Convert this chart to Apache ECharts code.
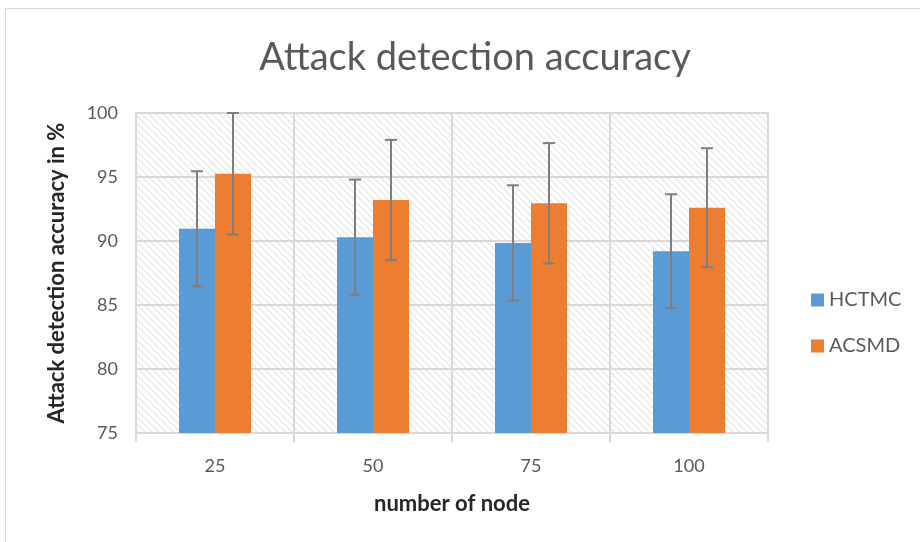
<!DOCTYPE html>
<html>
<head>
<meta charset="utf-8">
<script src="https://cdn.jsdelivr.net/npm/echarts@6/dist/echarts.min.js"></script>
<style>
  html, body { margin: 0; padding: 0; background: #fff; }
  #chart { width: 920px; height: 542px; }
</style>
</head>
<body>
<div id="chart"></div>
<script>
const categories = ['25', '50', '75', '100']
const seriesNames = ['HCTMC', 'ACSMD']
const hctmcValues = [90.95, 90.3, 89.85, 89.2]
const acsmdValues = [95.25, 93.2, 92.95, 92.6]
const hctmcErrors = [4.5, 4.5, 4.5, 4.45]
const acsmdErrors = [4.75, 4.7, 4.7, 4.65]
const yTicks = { min: 75, max: 100, interval: 5 }

const colors = ['#5B9BD5', '#ED7D31']
const BAR_W = 36

// diagonal hatch for the plot area
function hatch() {
  const c = document.createElement('canvas')
  c.width = 7
  c.height = 7
  const ctx = c.getContext('2d')
  ctx.fillStyle = '#fff'
  ctx.fillRect(0, 0, 7, 7)
  ctx.strokeStyle = '#e3e3e3'
  ctx.lineWidth = 1.2
  for (const o of [-7, 0, 7]) {
    ctx.beginPath()
    ctx.moveTo(o, 0)
    ctx.lineTo(o + 7, 7)
    ctx.stroke()
  }
  return c
}

function errorSeries(name, values, errors, offset) {
  return {
    type: 'custom',
    name: name,
    z: 5,
    silent: true,
    data: values.map((v, i) => [i, v - errors[i], v + errors[i]]),
    renderItem: (params, api) => {
      const lo = api.coord([api.value(0), api.value(1)])
      const hi = api.coord([api.value(0), api.value(2)])
      const x = lo[0] + offset
      const cap = 6
      const style = { stroke: '#7f7f7f', lineWidth: 2 }
      return {
        type: 'group',
        children: [
          { type: 'line', shape: { x1: x, y1: hi[1], x2: x, y2: lo[1] }, style },
          { type: 'line', shape: { x1: x - cap, y1: hi[1], x2: x + cap, y2: hi[1] }, style },
          { type: 'line', shape: { x1: x - cap, y1: lo[1], x2: x + cap, y2: lo[1] }, style },
        ],
      }
    },
  }
}

const chart = echarts.init(document.getElementById('chart'))
const font = 'Lato, "Open Sans", sans-serif'

chart.setOption({
  textStyle: { fontFamily: font },
  animation: false,
  title: {
    text: 'Attack detection accuracy',
    left: 470,
    textAlign: 'center',
    top: 34,
    textStyle: { fontSize: 38, fontWeight: 'normal', color: '#595959', fontFamily: font },
  },
  graphic: [{
    type: 'rect',
    shape: { x: 5.5, y: 8.5, width: 1000, height: 1000 },
    style: { fill: 'none', stroke: '#d9d9d9', lineWidth: 1 },
    silent: true,
  }],
  legend: {
    data: seriesNames,
    orient: 'vertical',
    left: 806,
    top: 285,
    itemWidth: 13,
    itemHeight: 13,
    itemGap: 26,
    icon: 'rect',
    textStyle: { fontSize: 20, color: '#595959', fontFamily: font },
  },
  grid: {
    left: 136,
    right: 152,
    top: 113,
    bottom: 109,
    show: true,
    backgroundColor: { image: hatch(), repeat: 'repeat' },
    borderColor: '#d9d9d9',
    borderWidth: 2,
  },
  xAxis: {
    type: 'category',
    data: categories,
    name: 'number of node',
    nameLocation: 'middle',
    nameGap: 60,
    nameTextStyle: { fontSize: 22, fontWeight: 'bold', color: '#262626', fontFamily: font },
    axisLine: { lineStyle: { color: '#d9d9d9', width: 2 } },
    axisTick: { show: true, length: 9, lineStyle: { color: '#d9d9d9', width: 2 } },
    axisLabel: { fontSize: 18, color: '#595959', margin: 24 },
    splitLine: { show: true, lineStyle: { color: '#d9d9d9', width: 2 } },
  },
  yAxis: {
    type: 'value',
    min: yTicks.min,
    max: yTicks.max,
    interval: yTicks.interval,
    name: 'Attack detection accuracy in %',
    nameLocation: 'middle',
    nameGap: 68,
    nameTextStyle: { fontSize: 22, fontWeight: 'bold', color: '#262626', fontFamily: font },
    axisLine: { show: false },
    axisTick: { show: false },
    axisLabel: { fontSize: 18, color: '#595959', margin: 18 },
    splitLine: { lineStyle: { color: '#d9d9d9', width: 2 } },
  },
  series: [
    {
      name: seriesNames[0],
      type: 'bar',
      data: hctmcValues,
      barWidth: BAR_W,
      barGap: '0%',
      itemStyle: { color: colors[0] },
    },
    {
      name: seriesNames[1],
      type: 'bar',
      data: acsmdValues,
      barWidth: BAR_W,
      barGap: '0%',
      itemStyle: { color: colors[1] },
    },
    errorSeries(seriesNames[0], hctmcValues, hctmcErrors, -BAR_W / 2),
    errorSeries(seriesNames[1], acsmdValues, acsmdErrors, BAR_W / 2),
  ],
})
</script>
</body>
</html>
